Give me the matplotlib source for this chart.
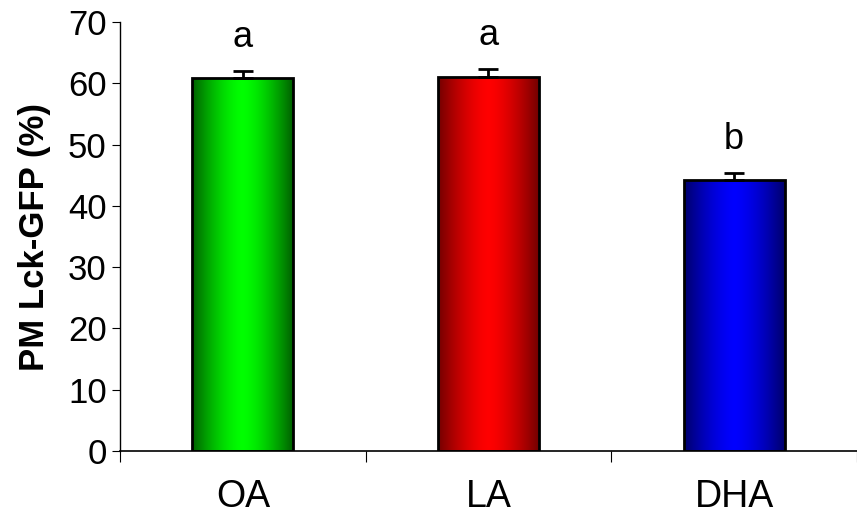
import numpy as np
import matplotlib.pyplot as plt
from matplotlib.patches import Rectangle

plt.rcParams['font.family'] = ['Liberation Sans', 'DejaVu Sans']

groups = ["OA", "LA", "DHA"]
values = [60.8, 61.0, 44.2]
errors = [1.3, 1.3, 1.2]
letters = ["a", "a", "b"]
edge_colors = [(0, 0.38, 0), (0.45, 0, 0), (0, 0, 0.42)]
mid_colors = [(0, 1, 0), (1, 0, 0), (0, 0, 1)]

fig = plt.figure(figsize=(8.57, 5.14), dpi=100)
ax = fig.add_axes([0.140, 0.1226, 0.86, 0.8344])

x = np.arange(len(groups)) + 0.5
width = 0.41

for xi, v, e, lab, c0, c1 in zip(x, values, errors, letters, edge_colors, mid_colors):
    # horizontal gradient: dark edge -> bright centre -> dark edge
    t = np.linspace(-1, 1, 200)
    w = np.clip(1 - np.abs(t) ** 1.5, 0, 1)
    grad = np.array([[np.array(c0) * (1 - wi) + np.array(c1) * wi for wi in w]])
    im = ax.imshow(grad, extent=[xi - width / 2, xi + width / 2, 0, v],
                   aspect='auto', zorder=2, interpolation='bilinear')
    rect = Rectangle((xi - width / 2, 0), width, v, fill=False,
                     edgecolor='black', linewidth=2, zorder=3)
    ax.add_patch(rect)
    im.set_clip_path(rect)
    ax.errorbar(xi, v, yerr=[[0], [e]], fmt='none', ecolor='black',
                elinewidth=2, capsize=7, capthick=2, zorder=4)
    ax.text(xi, v + e + 2.6, lab, ha='center', va='bottom', fontsize=26)

ax.set_xlim(0, 3)
ax.set_ylim(0, 70)
ax.set_yticks(range(0, 71, 10))
ax.set_xticks([0, 1, 2, 3])
ax.set_xticklabels([])
ax.set_xticks(x, minor=True)
ax.set_xticklabels(groups, minor=True)
ax.tick_params(axis='x', which='minor', length=0, labelsize=27, pad=20)
ax.tick_params(axis='x', which='major', length=8, direction='out')
ax.tick_params(axis='y', labelsize=25, length=6, direction='out')
for s in ['top', 'right']:
    ax.spines[s].set_visible(False)
ax.spines['left'].set_linewidth(1)
ax.spines['bottom'].set_linewidth(1.2)
ax.set_ylabel("PM Lck-GFP (%)", fontsize=25, fontweight='bold', labelpad=12)

fig.savefig("out.png", dpi=100)
